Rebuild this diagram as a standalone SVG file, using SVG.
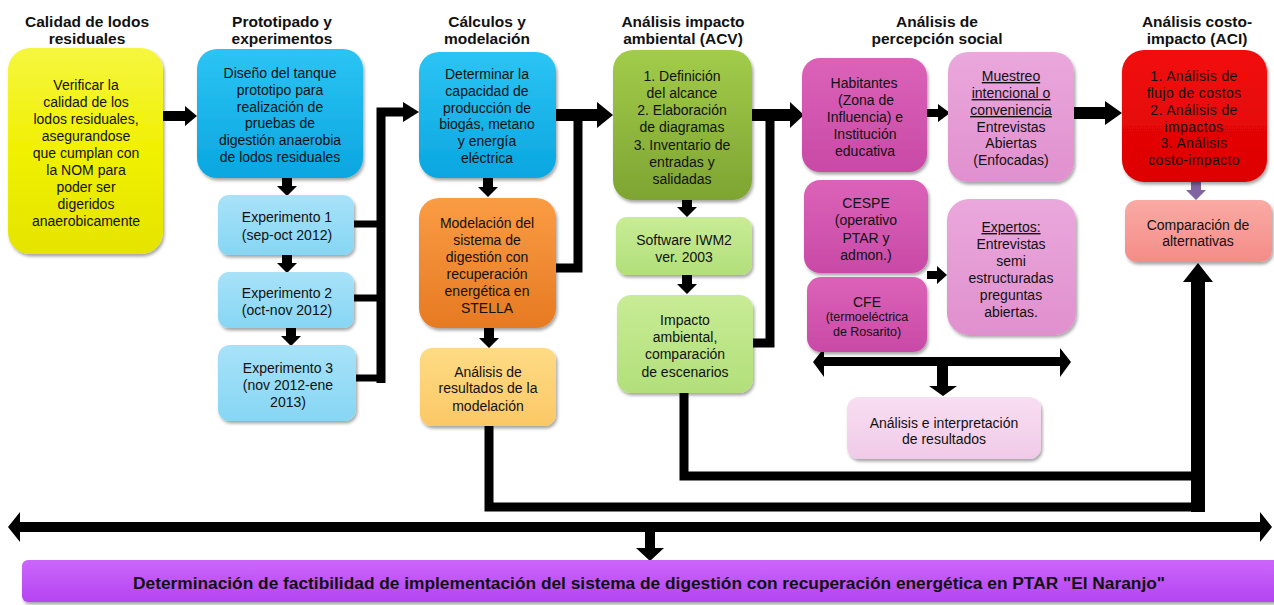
<svg xmlns="http://www.w3.org/2000/svg" width="1274" height="605" viewBox="0 0 1274 605">
<defs>
<filter id="sh" x="-10%" y="-10%" width="125%" height="130%"><feDropShadow dx="1.5" dy="2.5" stdDeviation="1.8" flood-color="#000" flood-opacity="0.35"/></filter>
<linearGradient id="gY" x1="0" y1="0" x2="0" y2="1"><stop offset="0" stop-color="#f6f640"/><stop offset="0.5" stop-color="#f0f000"/><stop offset="1" stop-color="#e4e400"/></linearGradient>
<linearGradient id="gB" x1="0" y1="0" x2="0" y2="1"><stop offset="0" stop-color="#2cc4f4"/><stop offset="1" stop-color="#0aa6e0"/></linearGradient>
<linearGradient id="gLB" x1="0" y1="0" x2="0" y2="1"><stop offset="0" stop-color="#a8e2f8"/><stop offset="1" stop-color="#86d6f4"/></linearGradient>
<linearGradient id="gO" x1="0" y1="0" x2="0" y2="1"><stop offset="0" stop-color="#fa9c44"/><stop offset="1" stop-color="#e67a22"/></linearGradient>
<linearGradient id="gLO" x1="0" y1="0" x2="0" y2="1"><stop offset="0" stop-color="#fedb84"/><stop offset="1" stop-color="#fbc866"/></linearGradient>
<linearGradient id="gG" x1="0" y1="0" x2="0" y2="1"><stop offset="0" stop-color="#a2cc4a"/><stop offset="1" stop-color="#7ea432"/></linearGradient>
<linearGradient id="gLG" x1="0" y1="0" x2="0" y2="1"><stop offset="0" stop-color="#c8ec96"/><stop offset="1" stop-color="#b2df7a"/></linearGradient>
<linearGradient id="gM" x1="0" y1="0" x2="0" y2="1"><stop offset="0" stop-color="#dc62b8"/><stop offset="1" stop-color="#c84aa6"/></linearGradient>
<linearGradient id="gP" x1="0" y1="0" x2="0" y2="1"><stop offset="0" stop-color="#eaa8dc"/><stop offset="1" stop-color="#e090ce"/></linearGradient>
<linearGradient id="gVP" x1="0" y1="0" x2="0" y2="1"><stop offset="0" stop-color="#f8def2"/><stop offset="1" stop-color="#f0cae8"/></linearGradient>
<linearGradient id="gR" x1="0" y1="0" x2="0" y2="1"><stop offset="0" stop-color="#f21010"/><stop offset="1" stop-color="#dc0000"/></linearGradient>
<linearGradient id="gS" x1="0" y1="0" x2="0" y2="1"><stop offset="0" stop-color="#faaaa4"/><stop offset="1" stop-color="#f48c88"/></linearGradient>
<linearGradient id="gV" x1="0" y1="0" x2="0" y2="1"><stop offset="0" stop-color="#cc66fa"/><stop offset="1" stop-color="#b444f2"/></linearGradient>
</defs>
<style>
text{font-family:"Liberation Sans",Arial,sans-serif;font-size:14px;fill:#111;text-anchor:middle}
.t{font-weight:bold;font-size:15.5px}
.sm{font-size:12.5px}
.u{text-decoration:underline}
.ls{letter-spacing:0.35px}
.box{filter:url(#sh)}
.ln{fill:none;stroke:#000;stroke-width:9;stroke-linejoin:miter}
.ln2{fill:none;stroke:#000;stroke-width:7}
.ah{fill:#000}
</style>
<rect width="1274" height="605" fill="#fff"/>

<g id="titles">
<text class="t" x="87" y="27">Calidad de lodos</text><text class="t" x="87" y="44">residuales</text>
<text class="t" x="282" y="27">Prototipado y</text><text class="t" x="282" y="44">experimentos</text>
<text class="t" x="487" y="27">Cálculos y</text><text class="t" x="487" y="44">modelación</text>
<text class="t" x="683" y="27">Análisis impacto</text><text class="t" x="683" y="44">ambiental (ACV)</text>
<text class="t" x="937" y="27">Análisis de</text><text class="t" x="937" y="44">percepción social</text>
<text class="t" x="1197" y="27">Análisis costo-</text><text class="t" x="1197" y="44">impacto (ACI)</text>
</g>

<g id="connectors">
<polygon class="ah" points="163,111 185,111 185,106 197,116 185,126 185,121 163,121"/>
<path class="ah" d="M282,178h10v8h5l-10,10l-10,-10h5z"/>
<path class="ah" d="M282,255h10v8h5l-10,10l-10,-10h5z"/>
<path class="ah" d="M286,328h10v8h5l-10,10l-10,-10h5z"/>
<path class="ln2" d="M354,224H381M354,298H381M354,378H381"/>
<path class="ln" d="M381,383V112H405"/>
<polygon class="ah" points="403,102 419,112 403,122"/>
<path class="ah" d="M483,178h10v9h5l-10,10l-10,-10h5z"/>
<path class="ah" d="M484,328h10v10h5l-10,10l-10,-10h5z"/>
<polygon class="ah" points="556,109 597,109 597,102 613,115 597,128 597,121 556,121"/>
<path class="ln" d="M556,268H578V115"/>
<path class="ah" d="M682,200h10v7h5l-10,10l-10,-10h5z"/>
<path class="ah" d="M682,275h10v9h5l-10,10l-10,-10h5z"/>
<polygon class="ah" points="752,109 790,109 790,102 804,115 790,128 790,121 752,121"/>
<path class="ln" d="M753,343H770V115"/>
<polygon class="ah" points="927,109 938,109 938,104 950,113 938,122 938,117 927,117"/>
<polygon class="ah" points="1074,107 1105,107 1105,101 1122,113 1105,125 1105,119 1074,119"/>
<polygon class="ah" points="927,271 937,271 937,266 947,275 937,284 937,279 927,279"/>
<path d="M1191,182h10v8h5l-10,10l-10,-10h5z" fill="#8064a2"/>
<polygon class="ah" points="813,362 824,348 824,357 1060,357 1060,348 1071,362 1060,377 1060,366 824,366 824,377"/>
<path class="ah" d="M937,366h11v20h9l-14,10l-14,-10h8z"/>
<path class="ln" d="M489,426V507H1197"/>
<path class="ln" d="M684,393V476H1197"/>
<path class="ah" d="M1191,512V282h-8l15,-19l15,19h-8v230z"/>
<polygon class="ah" points="8,527 20,512 20,522 1260,522 1260,512 1272,527 1260,542 1260,532 20,532 20,542"/>
<path class="ah" d="M645,532h10v16h9l-14,13l-14,-13h9z"/>
</g>

<g id="n-calidad"><rect class="box" x="8" y="48" width="155" height="206" rx="22" fill="url(#gY)"/>
<text x="86" y="90">Verificar la</text><text x="86" y="107">calidad de los</text><text x="86" y="124">lodos residuales,</text><text x="86" y="141">asegurandose</text><text x="86" y="158">que cumplan con</text><text x="86" y="175">la NOM para</text><text x="86" y="192">poder ser</text><text x="86" y="209">digeridos</text><text x="86" y="226">anaerobicamente</text></g>

<g id="n-diseno"><rect class="box" x="197" y="49" width="166" height="129" rx="20" fill="url(#gB)"/>
<text x="280" y="78">Diseño del tanque</text><text x="280" y="95">prototipo para</text><text x="280" y="112">realización de</text><text x="280" y="128">pruebas de</text><text x="280" y="145">digestión anaerobia</text><text x="280" y="162">de lodos residuales</text></g>

<g id="n-exp1"><rect class="box" x="218" y="195" width="136" height="60" rx="11" fill="url(#gLB)"/>
<text x="287" y="222">Experimento 1</text><text x="287" y="240">(sep-oct 2012)</text></g>
<g id="n-exp2"><rect class="box" x="218" y="272" width="136" height="56" rx="11" fill="url(#gLB)"/>
<text x="287" y="298">Experimento 2</text><text x="287" y="315">(oct-nov 2012)</text></g>
<g id="n-exp3"><rect class="box" x="218" y="345" width="138" height="76" rx="12" fill="url(#gLB)"/>
<text x="288" y="373">Experimento 3</text><text x="288" y="390">(nov 2012-ene</text><text x="288" y="407">2013)</text></g>

<g id="n-determinar"><rect class="box" x="419" y="52" width="137" height="126" rx="20" fill="url(#gB)"/>
<text x="487" y="79">Determinar la</text><text x="487" y="96">capacidad de</text><text x="487" y="113">producción de</text><text x="487" y="129">biogás, metano</text><text x="487" y="146">y energía</text><text x="487" y="163">eléctrica</text></g>

<g id="n-modelacion"><rect class="box" x="419" y="198" width="137" height="130" rx="20" fill="url(#gO)"/>
<text x="487" y="228">Modelación del</text><text x="487" y="245">sistema de</text><text x="487" y="262">digestión con</text><text x="487" y="279">recuperación</text><text x="487" y="296">energética en</text><text x="487" y="313">STELLA</text></g>

<g id="n-analisis-mod"><rect class="box" x="420" y="348" width="136" height="78" rx="12" fill="url(#gLO)"/>
<text x="488" y="377">Análisis de</text><text x="488" y="393">resultados de la</text><text x="488" y="411">modelación</text></g>

<g id="n-acv"><rect class="box" x="613" y="50" width="139" height="150" rx="20" fill="url(#gG)"/>
<text x="682" y="81">1. Definición</text><text x="682" y="98">del alcance</text><text x="682" y="115">2. Elaboración</text><text x="682" y="132">de diagramas</text><text x="682" y="150">3. Inventario de</text><text x="682" y="167">entradas y</text><text x="682" y="184">salidadas</text></g>

<g id="n-software"><rect class="box" x="616" y="217" width="136" height="58" rx="11" fill="url(#gLG)"/>
<text x="684" y="245">Software IWM2</text><text x="684" y="262">ver. 2003</text></g>

<g id="n-impacto"><rect class="box" x="617" y="295" width="136" height="98" rx="14" fill="url(#gLG)"/>
<text x="685" y="325">Impacto</text><text x="685" y="342">ambiental,</text><text x="685" y="359">comparación</text><text x="685" y="377">de escenarios</text></g>

<g id="n-habitantes"><rect class="box" x="802" y="58" width="125" height="114" rx="18" fill="url(#gM)"/>
<text x="864" y="88">Habitantes</text><text x="866" y="105">(Zona de</text><text x="865" y="122">Influencia) e</text><text x="865" y="139">Institución</text><text x="865" y="156">educativa</text></g>

<g id="n-muestreo"><rect class="box" x="948" y="52" width="126" height="130" rx="20" fill="url(#gP)"/>
<text x="1011" y="81" class="u">Muestreo</text><text x="1011" y="98" class="u">intencional o</text><text x="1011" y="115" class="u">conveniencia</text><text x="1011" y="132">Entrevistas</text><text x="1011" y="148">Abiertas</text><text x="1011" y="165">(Enfocadas)</text></g>

<g id="n-cespe"><rect class="box" x="804" y="180" width="124" height="93" rx="16" fill="url(#gM)"/>
<text x="866" y="208">CESPE</text><text x="866" y="225">(operativo</text><text x="866" y="243">PTAR y</text><text x="866" y="260">admon.)</text></g>

<g id="n-cfe"><rect class="box" x="807" y="277" width="120" height="75" rx="14" fill="url(#gM)"/>
<text x="867" y="307">CFE</text><text class="sm" x="867" y="321">(termoeléctrica</text><text class="sm" x="867" y="336">de Rosarito)</text></g>

<g id="n-expertos"><rect class="box" x="947" y="199" width="129" height="136" rx="22" fill="url(#gP)"/>
<text x="1011" y="232" class="u">Expertos:</text><text x="1011" y="249">Entrevistas</text><text x="1011" y="266">semi</text><text x="1011" y="283">estructuradas</text><text x="1011" y="300">preguntas</text><text x="1011" y="317">abiertas.</text></g>

<g id="n-interpretacion"><rect class="box" x="847" y="397" width="194" height="62" rx="12" fill="url(#gVP)"/>
<text x="944" y="428">Análisis e interpretación</text><text x="944" y="444">de resultados</text></g>

<g id="n-aci"><rect class="box" x="1122" y="50" width="145" height="132" rx="22" fill="url(#gR)"/>
<text class="ls" x="1194" y="81">1. Análisis de</text><text class="ls" x="1194" y="98">flujo de costos</text><text class="ls" x="1194" y="115">2. Análisis de</text><text class="ls" x="1194" y="132">impactos</text><text class="ls" x="1194" y="148">3. Análisis</text><text class="ls" x="1194" y="165">costo-impacto</text></g>

<g id="n-comparacion"><rect class="box" x="1125" y="200" width="147" height="62" rx="12" fill="url(#gS)"/>
<text x="1198" y="230">Comparación de</text><text x="1198" y="246">alternativas</text></g>

<g id="n-factibilidad"><rect class="box" x="22" y="560" width="1258" height="42" rx="6" fill="url(#gV)"/>
<text x="649" y="589" textLength="1032" lengthAdjust="spacingAndGlyphs" style="font-weight:bold;font-size:16px">Determinación de factibilidad de implementación del sistema de digestión con recuperación energética en PTAR "El Naranjo"</text></g>
</svg>
